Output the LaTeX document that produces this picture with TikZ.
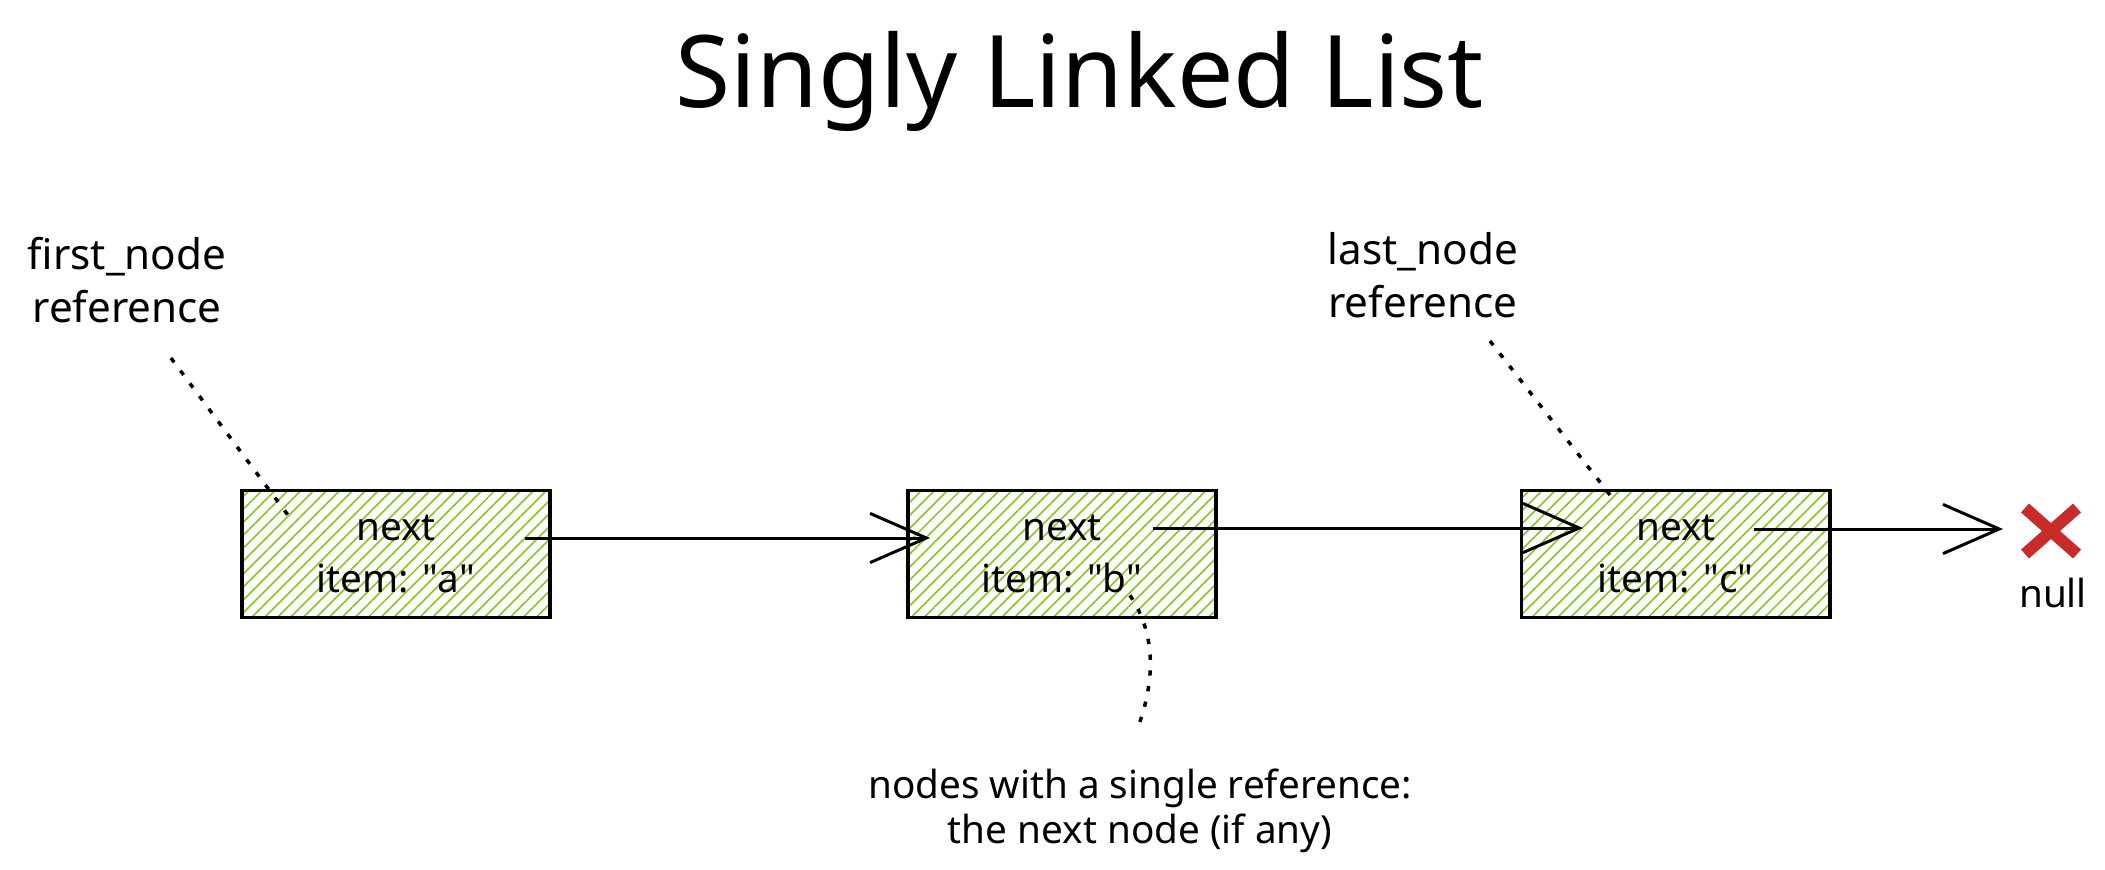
\documentclass[tikz,border=0pt]{standalone}
\usepackage{fontspec}
\setmainfont{Noto Sans}
\usetikzlibrary{positioning,calc,arrows.meta,patterns.meta,shapes.misc}
\definecolor{hatchgreen}{RGB}{130,201,30}
\definecolor{nullred}{RGB}{201,42,42}

\begin{document}
\begin{tikzpicture}[x=0.01cm, y=-0.01cm,
    listnode/.style={draw, line width=1pt, minimum width=3.08cm, minimum height=1.27cm,
      pattern={Lines[angle=45, distance=2.6pt, line width=0.45pt]}, pattern color=hatchgreen,
      align=center, font=\fontsize{11}{15}\selectfont},
    link/.style={line width=0.85pt, -{Straight Barb[length=16pt, width=14pt, line width=0.85pt]}},
    pointer/.style={line width=1pt, dash pattern=on 1.5pt off 3pt},
    note/.style={align=center, anchor=base, font=\fontsize{12}{15}\selectfont}]
    \useasboundingbox (0,0) rectangle (2105,869);

    % Title
    \node (title) [anchor=base, font=\fontsize{28.5}{34}\selectfont] at (1080,107) {Singly Linked List};

    % The list: a -> b -> c -> null
    \node (boxA) [listnode] at (396,554) {next\\item: \textquotedbl a\textquotedbl};
    \node (boxB) [listnode, right=3.55cm of boxA] {next\\item: \textquotedbl b\textquotedbl};
    \node (boxC) [listnode, right=3.02cm of boxB] {next\\item: \textquotedbl c\textquotedbl};
    \node (nullX) [cross out, draw=nullred, line width=3.4pt, outer sep=0pt, inner sep=0pt,
      minimum width=0.52cm, minimum height=0.46cm] at (2051,531) {};
    \node (nullLbl) [anchor=base, font=\fontsize{11}{13}\selectfont] at (2053,607) {null};

    \coordinate (ptrA) at ([shift={(-26,-16)}]boxA.east);
    \coordinate (ptrB) at ([shift={(-65,-26)}]boxB.east);
    \coordinate (ptrC) at ([shift={(-78,-25)}]boxC.east);

    \draw[link] (ptrA) -- ($(ptrA -| boxB.west)+(24,0)$);
    \draw[link] (ptrB) -- ($(ptrB -| boxC.west)+(63,0)$);
    \draw[link] (ptrC) -- ($(ptrC -| nullX.west)+(-22,0)$);

    % References
    \node (firstRef) [note] at (127,322) {first\_node\\reference};
    \node (lastRef) [note] at (1423,317) {last\_node\\reference};
    \node (innerNote) [note, font=\fontsize{11}{12.8}\selectfont] at (1140,843) {nodes with a single reference:\\the next node (if any)};

    \coordinate (firstTail) at (171,358);
    \coordinate (lastTail) at (1490,341);
    \coordinate (innerTail) at (1137,730);

    \draw[pointer] (firstTail) -- ($(boxA.north west)+(48,27)$);
    \draw[pointer] (lastTail) -- ($(boxC.north west)+(93,10)$);
    \draw[pointer] ($(boxB.south)+(68,-24)$) .. controls (1160,640) and (1152,690) .. (innerTail);
  \end{tikzpicture}
\end{document}
